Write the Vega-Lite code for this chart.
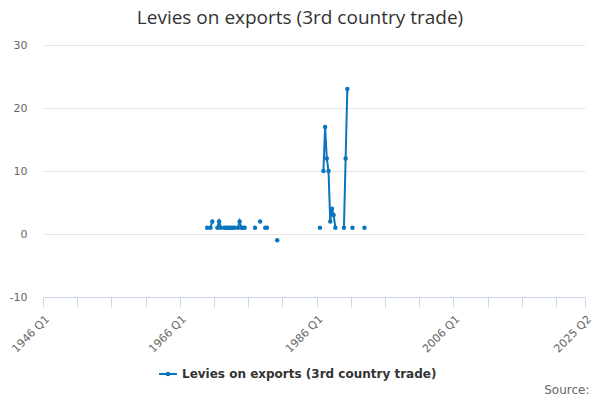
{
  "$schema": "https://vega.github.io/schema/vega-lite/v6.json",
  "width": 542,
  "height": 252,
  "autosize": {"type": "none"},
  "padding": {"left": 43, "top": 45, "right": 15, "bottom": 103},
  "background": "#ffffff",
  "title": {
    "text": "Levies on exports (3rd country trade)",
    "font": "Open Sans",
    "fontSize": 19,
    "fontWeight": "normal",
    "color": "#333333",
    "anchor": "middle",
    "dx": -14,
    "dy": 24,
    "offset": 20,
    "baseline": "alphabetic"
  },
  "data": {
    "values": [
      {"date": "1970-01-01", "value": 1},
      {"date": "1970-04-01", "value": null},
      {"date": "1970-07-01", "value": 1},
      {"date": "1970-10-01", "value": 2},
      {"date": "1971-01-01", "value": null},
      {"date": "1971-07-01", "value": 1},
      {"date": "1971-10-01", "value": 2},
      {"date": "1972-01-01", "value": 1},
      {"date": "1972-04-01", "value": null},
      {"date": "1972-07-01", "value": 1},
      {"date": "1972-10-01", "value": 1},
      {"date": "1973-01-01", "value": 1},
      {"date": "1973-04-01", "value": 1},
      {"date": "1973-07-01", "value": 1},
      {"date": "1973-10-01", "value": 1},
      {"date": "1974-01-01", "value": 1},
      {"date": "1974-04-01", "value": null},
      {"date": "1974-07-01", "value": 1},
      {"date": "1974-10-01", "value": 2},
      {"date": "1975-01-01", "value": 1},
      {"date": "1975-04-01", "value": 1},
      {"date": "1975-07-01", "value": 1},
      {"date": "1975-10-01", "value": null},
      {"date": "1977-01-01", "value": 1},
      {"date": "1977-04-01", "value": null},
      {"date": "1977-10-01", "value": 2},
      {"date": "1978-01-01", "value": null},
      {"date": "1978-07-01", "value": 1},
      {"date": "1978-10-01", "value": 1},
      {"date": "1979-01-01", "value": null},
      {"date": "1980-04-01", "value": -1},
      {"date": "1980-07-01", "value": null},
      {"date": "1986-07-01", "value": 1},
      {"date": "1986-10-01", "value": null},
      {"date": "1987-01-01", "value": 10},
      {"date": "1987-04-01", "value": 17},
      {"date": "1987-07-01", "value": 12},
      {"date": "1987-10-01", "value": 10},
      {"date": "1988-01-01", "value": 2},
      {"date": "1988-04-01", "value": 4},
      {"date": "1988-07-01", "value": 3},
      {"date": "1988-10-01", "value": 1},
      {"date": "1989-01-01", "value": null},
      {"date": "1990-01-01", "value": 1},
      {"date": "1990-04-01", "value": 12},
      {"date": "1990-07-01", "value": 23},
      {"date": "1990-10-01", "value": null},
      {"date": "1991-04-01", "value": 1},
      {"date": "1991-07-01", "value": null},
      {"date": "1993-01-01", "value": 1}
    ]
  },
  "mark": {
    "type": "line",
    "strokeWidth": 2,
    "invalid": "break-paths-filter-domains",
    "point": {"filled": true, "size": 20}
  },
  "encoding": {
    "x": {
      "field": "date",
      "type": "temporal",
      "scale": {
        "type": "utc",
        "nice": false,
        "domain": [
          {"year": 1946, "month": 1, "date": 1, "utc": true},
          {"year": 2025, "month": 4, "date": 1, "utc": true}
        ]
      },
      "axis": {
        "title": "Source:",
        "titleX": 546,
        "titleY": 96,
        "titleAlign": "right",
        "titleBaseline": "alphabetic",
        "titleFont": "DejaVu Sans",
        "titleFontSize": 12,
        "titleFontWeight": "normal",
        "titleColor": "#666666",
        "values": [
          {"year": 1946, "month": 1, "date": 1, "utc": true},
          {"year": 1951, "month": 1, "date": 1, "utc": true},
          {"year": 1956, "month": 1, "date": 1, "utc": true},
          {"year": 1961, "month": 1, "date": 1, "utc": true},
          {"year": 1966, "month": 1, "date": 1, "utc": true},
          {"year": 1971, "month": 1, "date": 1, "utc": true},
          {"year": 1976, "month": 1, "date": 1, "utc": true},
          {"year": 1981, "month": 1, "date": 1, "utc": true},
          {"year": 1986, "month": 1, "date": 1, "utc": true},
          {"year": 1991, "month": 1, "date": 1, "utc": true},
          {"year": 1996, "month": 1, "date": 1, "utc": true},
          {"year": 2001, "month": 1, "date": 1, "utc": true},
          {"year": 2006, "month": 1, "date": 1, "utc": true},
          {"year": 2011, "month": 1, "date": 1, "utc": true},
          {"year": 2016, "month": 1, "date": 1, "utc": true},
          {"year": 2021, "month": 1, "date": 1, "utc": true},
          {"year": 2025, "month": 4, "date": 1, "utc": true}
        ],
        "labelExpr": "(utcyear(datum.value) % 20 == 6 || utcyear(datum.value) == 2025) ? utcyear(datum.value) + ' Q' + (floor(utcmonth(datum.value) / 3) + 1) : ''",
        "labelAngle": -45,
        "labelAlign": "right",
        "labelBaseline": "top",
        "labelFont": "DejaVu Sans",
        "labelFontSize": 11,
        "labelColor": "#666666",
        "labelPadding": 6,
        "labelOverlap": false,
        "labelFlush": false,
        "tickColor": "#ccd6eb",
        "tickSize": 10,
        "domainColor": "#ccd6eb",
        "grid": false
      }
    },
    "y": {
      "field": "value",
      "type": "quantitative",
      "scale": {"domain": [-10, 30], "nice": false},
      "axis": {
        "title": null,
        "values": [-10, 0, 10, 20, 30],
        "labelExpr": "'' + datum.value",
        "domain": false,
        "ticks": false,
        "tickSize": 0,
        "labelPadding": 16,
        "labelFont": "DejaVu Sans",
        "labelFontSize": 11,
        "labelColor": "#666666",
        "gridColor": "#e6e6e6",
        "gridWidth": 1
      }
    },
    "color": {
      "datum": "Levies on exports (3rd country trade)",
      "scale": {"range": ["#0a75bd"]},
      "legend": {
        "orient": "none",
        "legendX": 115,
        "legendY": 319,
        "title": null,
        "symbolType": "M-1,0L1,0M-0.15,0A0.15,0.15 0 1,0 0.15,0A0.15,0.15 0 1,0 -0.15,0",
        "symbolSize": 324,
        "symbolStrokeWidth": 2,
        "symbolFillColor": "#0a75bd",
        "labelFont": "DejaVu Sans",
        "labelFontSize": 12,
        "labelFontWeight": "bold",
        "labelColor": "#333333",
        "labelOffset": 4,
        "labelLimit": 400
      }
    }
  },
  "config": {"view": {"stroke": null}}
}
